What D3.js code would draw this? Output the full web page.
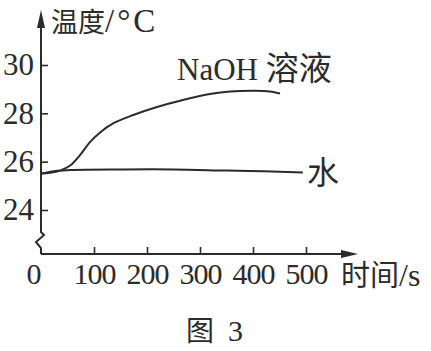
<!DOCTYPE html>
<html>
<head>
<meta charset="utf-8">
<script src="https://cdn.jsdelivr.net/npm/d3@7"></script>
<style>
  html, body { margin: 0; padding: 0; background: #fff; }
  svg { display: block; }
</style>
</head>
<body>
<svg id="chart" width="431" height="351"></svg>
<script>
// ---- data ----
const timeTicks = [0, 100, 200, 300, 400, 500];
const tempTicks = [24, 26, 28, 30];
const naohTime = [0, 17, 36, 55, 74, 92, 111, 136, 174, 219, 268, 313, 357, 404, 432, 451];
const naohTemp = [25.51, 25.54, 25.63, 25.84, 26.28, 26.8, 27.2, 27.58, 27.93, 28.26, 28.55, 28.78, 28.9, 28.93, 28.9, 28.82];
const waterTime = [0, 30, 60, 150, 250, 350, 420, 494];
const waterTemp = [25.5, 25.62, 25.66, 25.68, 25.68, 25.63, 25.6, 25.55];
const yTitle = "温度/°C";
const xTitle = "时间/s";
const naohLabel = "NaOH 溶液";
const waterLabel = "水";
const caption = "图 3";

// ---- layout ----
const ink = "#2b2b2b";
const serif = "'Liberation Serif', 'Times New Roman', serif";
const cjk = "'Noto Sans CJK SC', sans-serif";
const x0 = 41, yAxisY = 254;

const x = d3.scaleLinear().domain([0, 500]).range([x0, 306]);
const y = d3.scaleLinear().domain([24, 30]).range([210, 65]);

const svg = d3.select("#chart");
svg.append("rect").attr("width", 431).attr("height", 351).attr("fill", "#fff");

// x axis (ticks + labels via d3 axis)
const gx = svg.append("g").attr("transform", `translate(0,${yAxisY})`)
  .call(d3.axisBottom(x).tickValues(timeTicks).tickFormat(d3.format("d"))
    .tickSizeInner(-7).tickSizeOuter(0).tickPadding(9));
gx.select(".domain").remove();
gx.selectAll(".tick line").attr("stroke", ink).attr("stroke-width", 1.6)
  .filter(d => d === 0).remove();
gx.selectAll(".tick text").attr("font-family", serif).attr("font-size", 30)
  .attr("fill", ink).attr("letter-spacing", -1)
  .attr("dx", d => d === 0 ? -8 : 0);

// y axis
const gy = svg.append("g").attr("transform", `translate(${x0},0)`)
  .call(d3.axisLeft(y).tickValues(tempTicks).tickFormat(d3.format("d"))
    .tickSizeInner(-7).tickSizeOuter(0).tickPadding(7));
gy.select(".domain").remove();
gy.selectAll(".tick line").attr("stroke", ink).attr("stroke-width", 1.6);
gy.selectAll(".tick text").attr("font-family", serif).attr("font-size", 31).attr("fill", ink);

// axis lines with arrows and break
svg.append("path")
  .attr("d", `M${x0},${yAxisY} L345,${yAxisY}`)
  .attr("stroke", ink).attr("stroke-width", 2).attr("fill", "none");
svg.append("path")
  .attr("d", `M341,${yAxisY - 4} L358,${yAxisY} L341,${yAxisY + 4} Z`)
  .attr("fill", ink);
svg.append("path")
  .attr("d", `M${x0},${yAxisY} L${x0},248 L36,242 L44,235 L${x0},232 L${x0},24`)
  .attr("stroke", ink).attr("stroke-width", 2).attr("fill", "none").attr("stroke-linejoin", "miter");
svg.append("path")
  .attr("d", `M${x0 - 4},28 L${x0},10 L${x0 + 4},28 Z`)
  .attr("fill", ink);

// curves
const line = d3.line().x(d => x(d[0])).y(d => y(d[1])).curve(d3.curveCatmullRom.alpha(0.5));
svg.append("path").datum(d3.zip(naohTime, naohTemp)).attr("d", line)
  .attr("stroke", ink).attr("stroke-width", 2).attr("fill", "none");
svg.append("path").datum(d3.zip(waterTime, waterTemp)).attr("d", line)
  .attr("stroke", ink).attr("stroke-width", 2).attr("fill", "none");

// titles / labels
const t1 = svg.append("text").attr("x", 51).attr("y", 32).attr("fill", ink);
t1.append("tspan").attr("font-family", cjk).attr("font-size", 27).text(yTitle.slice(0, 2));
t1.append("tspan").attr("font-family", serif).attr("font-size", 33).attr("letter-spacing", 3).text(yTitle.slice(2));

const t2 = svg.append("text").attr("x", 341).attr("y", 286).attr("fill", ink);
t2.append("tspan").attr("font-family", cjk).attr("font-size", 29).text(xTitle.slice(0, 2));
t2.append("tspan").attr("font-family", serif).attr("font-size", 32).text(xTitle.slice(2));

const t3 = svg.append("text").attr("x", 177).attr("y", 80).attr("fill", ink);
t3.append("tspan").attr("font-family", serif).attr("font-size", 31).text(naohLabel.split(" ")[0] + " ");
t3.append("tspan").attr("font-family", cjk).attr("font-size", 33).text(naohLabel.split(" ")[1]);

svg.append("text").attr("x", 307).attr("y", 184).attr("fill", ink)
  .attr("font-family", cjk).attr("font-size", 32).text(waterLabel);

const t4 = svg.append("text").attr("x", 186).attr("y", 341).attr("fill", ink);
t4.append("tspan").attr("font-family", cjk).attr("font-size", 28).text(caption.split(" ")[0]);
t4.append("tspan").attr("font-family", serif).attr("font-size", 30).attr("dx", 14).text(caption.split(" ")[1]);
</script>
</body>
</html>
